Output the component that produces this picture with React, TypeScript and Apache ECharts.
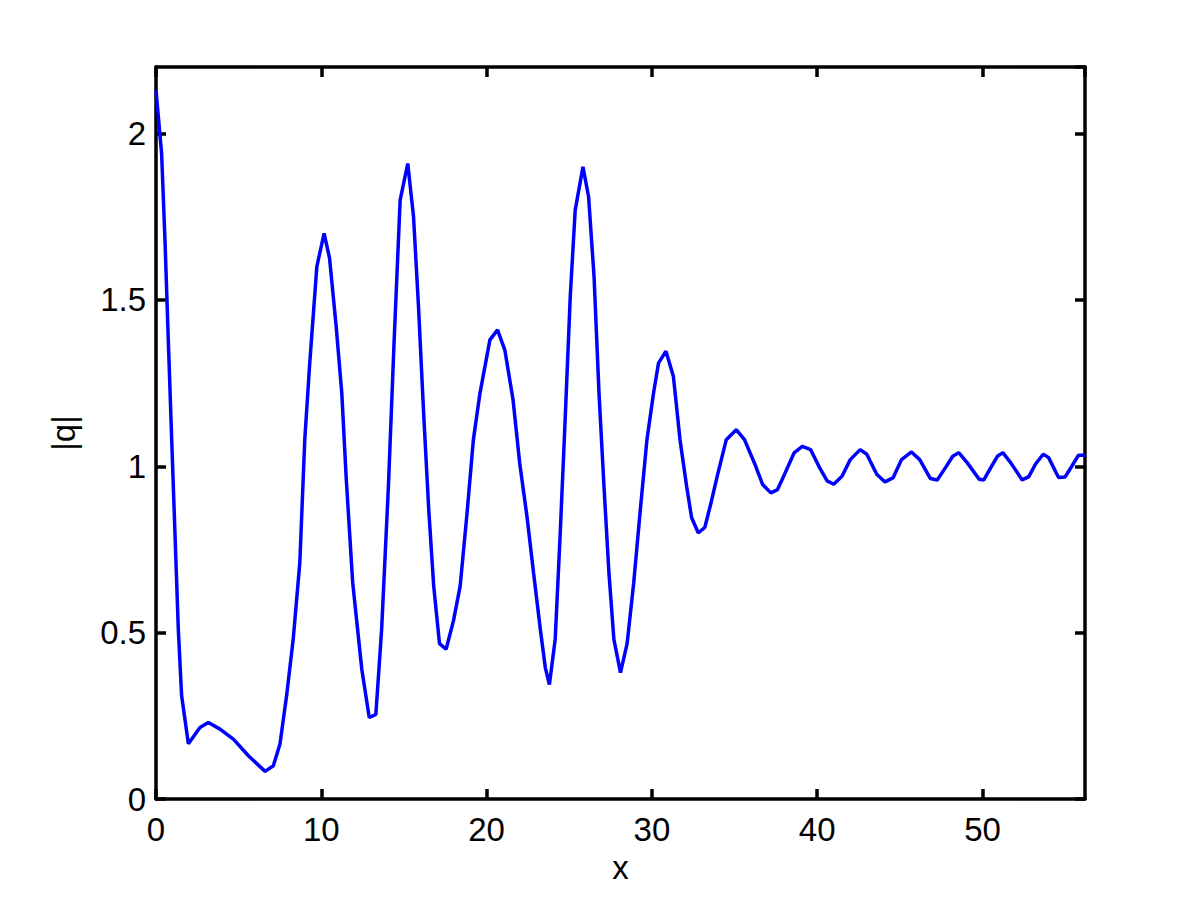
import React, { useEffect, useRef } from "react";
import * as echarts from "echarts";

const xValues = [
  0, 0.34, 0.55, 0.75, 0.95, 1.15, 1.35, 1.55, 1.96, 2.66, 3.17, 3.87, 4.68, 5.59, 6.6, 7.1, 7.5, 7.9, 8.3, 8.7,
  9.0, 9.3, 9.73, 10.17, 10.5, 10.9, 11.24, 11.5, 11.9, 12.45, 12.9, 13.3, 13.65, 14.06, 14.4, 14.77, 15.23,
  15.58, 15.88, 16.2, 16.5, 16.8, 17.15, 17.55, 18.0, 18.4, 18.8, 19.2, 19.6, 20.2, 20.66, 21.1, 21.6, 22.0,
  22.44, 22.84, 23.25, 23.55, 23.8, 24.15, 24.45, 24.76, 25.06, 25.36, 25.83, 26.17, 26.5, 26.8, 27.1, 27.4,
  27.7, 28.1, 28.5, 28.9, 29.3, 29.7, 30.1, 30.4, 30.85, 31.3, 31.7, 32.1, 32.4, 32.8, 33.2, 33.6, 34.0, 34.5,
  35.1, 35.6, 36.2, 36.7, 37.2, 37.6, 37.97, 38.6, 39.1, 39.6, 40.1, 40.6, 41.0, 41.5, 42.0, 42.6, 43.0, 43.6,
  44.1, 44.6, 45.1, 45.7, 46.2, 46.85, 47.26, 47.76, 48.2, 48.56, 49.07, 49.8, 50.08, 50.5, 50.9, 51.23, 51.7,
  52.4, 52.8, 53.2, 53.67, 54.0, 54.6, 55.0, 55.4, 55.8, 56.2,
];

const qValues = [
  2.13, 1.94, 1.67, 1.37, 1.08, 0.795, 0.51, 0.31, 0.166, 0.215, 0.23, 0.21, 0.18, 0.13, 0.083, 0.1, 0.165, 0.31,
  0.48, 0.71, 1.08, 1.31, 1.6, 1.7, 1.625, 1.42, 1.22, 0.97, 0.65, 0.39, 0.245, 0.254, 0.51, 0.94, 1.37, 1.8,
  1.91, 1.75, 1.48, 1.15, 0.87, 0.64, 0.467, 0.45, 0.537, 0.64, 0.85, 1.08, 1.22, 1.38, 1.41, 1.35, 1.2, 1.01,
  0.85, 0.68, 0.51, 0.395, 0.344, 0.48, 0.795, 1.15, 1.51, 1.77, 1.9, 1.81, 1.57, 1.22, 0.94, 0.68, 0.48, 0.38,
  0.467, 0.65, 0.87, 1.08, 1.22, 1.31, 1.346, 1.27, 1.08, 0.94, 0.846, 0.8, 0.816, 0.895, 0.98, 1.08, 1.11,
  1.08, 1.01, 0.945, 0.92, 0.93, 0.97, 1.04, 1.06, 1.05, 1.0, 0.956, 0.946, 0.97, 1.02, 1.05, 1.036, 0.976,
  0.953, 0.966, 1.02, 1.043, 1.02, 0.963, 0.959, 0.996, 1.03, 1.041, 1.011, 0.961, 0.959, 0.996, 1.03, 1.041,
  1.011, 0.959, 0.969, 1.006, 1.036, 1.026, 0.966, 0.968, 1.0, 1.033, 1.033,
];

const xTicks = [0, 10, 20, 30, 40, 50];
const yTicks = [0, 0.5, 1, 1.5, 2];

const FONT = "'Liberation Sans', Arial, Helvetica, sans-serif";

export default function App() {
  const ref = useRef<HTMLDivElement>(null);

  useEffect(() => {
    if (!ref.current) return;
    const chart = echarts.init(ref.current, null, { renderer: "svg" });
    const data = xValues.map((x, i) => [x, qValues[i]]);
    const axisLine = { show: true, onZero: false, lineStyle: { color: "#000", width: 3.5 } };
    const axisTick = { show: true, inside: true, length: 10, lineStyle: { color: "#000", width: 3.5 } };
    const xFmt = (v: number) => (xTicks.includes(v) ? String(v) : "");
    const yFmt = (v: number) => (yTicks.includes(v) ? String(v) : "");
    chart.setOption({
      animation: false,
      backgroundColor: "#fff",
      grid: { left: 156, right: 115, top: 67, bottom: 101, containLabel: false },
      xAxis: [
        {
          type: "value",
          min: 0,
          max: 56.2,
          interval: 10,
          position: "bottom",
          name: "x",
          nameLocation: "middle",
          nameGap: 48,
          nameTextStyle: { color: "#000", fontSize: 33, fontFamily: FONT },
          axisLine,
          axisTick,
          splitLine: { show: false },
          axisLabel: { color: "#000", fontSize: 33, fontFamily: FONT, margin: 14, formatter: xFmt, showMaxLabel: false },
        },
        {
          type: "value",
          min: 0,
          max: 56.2,
          interval: 10,
          position: "top",
          axisLine,
          axisTick,
          splitLine: { show: false },
          axisLabel: { show: false },
        },
      ],
      yAxis: [
        {
          type: "value",
          min: 0,
          max: 2.2,
          interval: 0.5,
          position: "left",
          name: "|q|",
          nameLocation: "middle",
          nameGap: 76,
          nameTextStyle: { color: "#000", fontSize: 33, fontFamily: FONT },
          axisLine,
          axisTick,
          splitLine: { show: false },
          axisLabel: { color: "#000", fontSize: 33, fontFamily: FONT, margin: 10, formatter: yFmt, showMaxLabel: false },
        },
        {
          type: "value",
          min: 0,
          max: 2.2,
          interval: 0.5,
          position: "right",
          axisLine,
          axisTick,
          splitLine: { show: false },
          axisLabel: { show: false },
        },
      ],
      series: [
        {
          type: "line",
          data,
          xAxisIndex: 0,
          yAxisIndex: 0,
          showSymbol: false,
          symbol: "none",
          smooth: false,
          lineStyle: { color: "#0000ff", width: 3.5 },
          clip: true,
        },
      ],
    });
    return () => chart.dispose();
  }, []);

  return (
    <div
      ref={ref}
      style={{ position: "absolute", left: 0, top: 0, width: 1200, height: 900, background: "#fff" }}
    />
  );
}
